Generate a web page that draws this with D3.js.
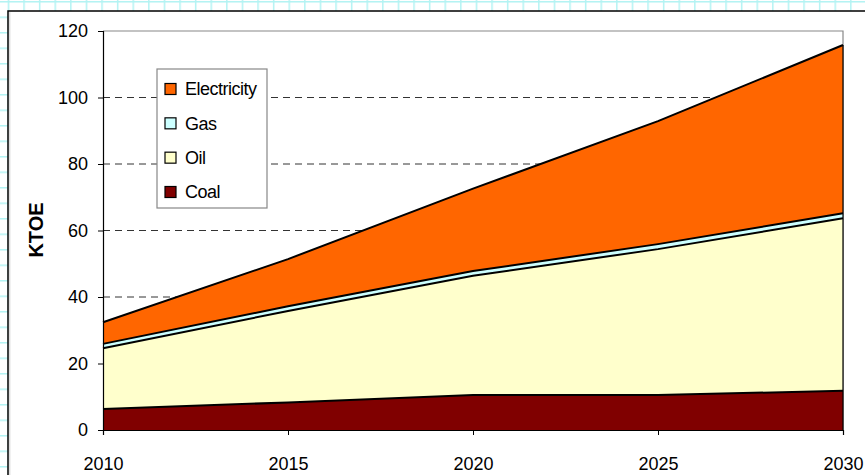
<!DOCTYPE html>
<html>
<head>
<meta charset="utf-8">
<script src="https://cdn.jsdelivr.net/npm/d3@7"></script>
<style>
  html, body { margin: 0; padding: 0; background: #fff; }
  svg { display: block; }
  text { font-family: "Liberation Sans", Arial, Helvetica, sans-serif; fill: #000; }
</style>
</head>
<body>
<svg id="chart" width="865" height="475"></svg>
<script>
// Final energy demand by fuel (KTOE)
const years = [2010, 2015, 2020, 2025, 2030];
const coal = [6.3, 8.3, 10.5, 10.5, 11.8];
const oil = [18.3, 27.5, 35.9, 43.9, 51.9];
const gas = [1.3, 1.4, 1.4, 1.5, 1.5];
const electricity = [6.5, 14.2, 24.8, 37.0, 50.6];
const yTicks = [0, 20, 40, 60, 80, 100, 120];

const seriesNames = ["Coal", "Oil", "Gas", "Electricity"];
const seriesValues = { Coal: coal, Oil: oil, Gas: gas, Electricity: electricity };
const colors = { Coal: "#800000", Oil: "#FFFFCC", Gas: "#CCFFFF", Electricity: "#FF6600" };
const legendOrder = ["Electricity", "Gas", "Oil", "Coal"];

const rows = years.map((yr, i) => {
  const r = { year: yr };
  seriesNames.forEach(k => { r[k] = seriesValues[k][i]; });
  return r;
});

const svg = d3.select("#chart");
const W = 865, H = 475;

// graph-paper backdrop
const defs = svg.append("defs");
const pat = defs.append("pattern")
  .attr("id", "paper").attr("patternUnits", "userSpaceOnUse")
  .attr("x", 7.7).attr("y", 1).attr("width", 15.6).attr("height", 15.5);
pat.append("rect").attr("width", 15.6).attr("height", 15.5).attr("fill", "#fff");
pat.append("line").attr("x1", 0).attr("x2", 15.6).attr("y1", 0.75).attr("y2", 0.75)
  .attr("stroke", "#b3f3f3").attr("stroke-width", 1.5);
pat.append("line").attr("x1", 0.75).attr("x2", 0.75).attr("y1", 0).attr("y2", 15.5)
  .attr("stroke", "#b3f3f3").attr("stroke-width", 1.5);
svg.append("rect").attr("width", W).attr("height", H).attr("fill", "url(#paper)");

// chart frame
svg.append("rect").attr("x", 8).attr("y", 11).attr("width", W).attr("height", H)
  .attr("fill", "#fff").attr("stroke", "#000").attr("stroke-width", 1.5);
svg.append("line").attr("x1", 9.8).attr("x2", 9.8).attr("y1", 12).attr("y2", H)
  .attr("stroke", "#d0d0d0").attr("stroke-width", 1);

const plotLeft = 103, plotRight = 843, plotTop = 31, plotBottom = 430;
const x = d3.scaleLinear().domain([2010, 2030]).range([plotLeft, plotRight]);
const y = d3.scaleLinear().domain([0, 120]).range([plotBottom, plotTop]);

// dashed gridlines
svg.append("g").selectAll("line")
  .data(yTicks.filter(v => v > 0 && v < 120))
  .join("line")
  .attr("x1", plotLeft).attr("x2", plotRight)
  .attr("y1", d => y(d)).attr("y2", d => y(d))
  .attr("stroke", "#333").attr("stroke-width", 1)
  .attr("stroke-dasharray", "7,5");

// plot border (top and right)
svg.append("path")
  .attr("d", `M${plotLeft},${y(120)}H${plotRight}V${plotBottom}`)
  .attr("fill", "none").attr("stroke", "#888").attr("stroke-width", 1.2);

// stacked areas
const stack = d3.stack().keys(seriesNames);
const layers = stack(rows);
const area = d3.area()
  .x(d => x(d.data.year))
  .y0(d => y(d[0]))
  .y1(d => y(d[1]));
const line = d3.line()
  .x(d => x(d.data.year))
  .y(d => y(d[1]));

svg.append("g").selectAll("path")
  .data(layers)
  .join("path")
  .attr("d", area)
  .attr("fill", d => colors[d.key]);

svg.append("g").selectAll("path")
  .data(layers)
  .join("path")
  .attr("d", line)
  .attr("fill", "none")
  .attr("stroke", "#000")
  .attr("stroke-width", 2);

// right edge of the stack
svg.append("line")
  .attr("x1", plotRight).attr("x2", plotRight)
  .attr("y1", y(0)).attr("y2", y(d3.sum(seriesNames, k => seriesValues[k][years.length - 1])))
  .attr("stroke", "#000").attr("stroke-width", 1.2);

// axes
const yAxis = d3.axisLeft(y).tickValues(yTicks).tickSize(5).tickPadding(10).tickFormat(d3.format("d"));
const gy = svg.append("g").attr("transform", `translate(${plotLeft},0)`).call(yAxis);
gy.select(".domain").attr("stroke", "#000").attr("stroke-width", 1.2);
gy.selectAll(".tick line").attr("stroke", "#000");
gy.selectAll("text").style("font-size", "18px");

const xAxis = d3.axisBottom(x).tickValues(years).tickSize(5).tickPadding(22).tickFormat(d3.format("d"));
const gx = svg.append("g").attr("transform", `translate(0,${plotBottom})`).call(xAxis);
gx.select(".domain").attr("stroke", "#000").attr("stroke-width", 1.2);
gx.selectAll(".tick line").attr("stroke", "#000");
gx.selectAll("text").style("font-size", "18px");

// y title
svg.append("text")
  .attr("transform", `translate(43,230) rotate(-90)`)
  .attr("text-anchor", "middle")
  .style("font-size", "20px").style("font-weight", "bold")
  .text("KTOE");

// legend
const lg = svg.append("g");
lg.append("rect").attr("x", 157).attr("y", 69).attr("width", 110).attr("height", 139)
  .attr("fill", "#fff").attr("stroke", "#888").attr("stroke-width", 1.2);
const legendY = d3.scalePoint().domain(legendOrder).range([89, 192]);
const items = lg.selectAll("g.item").data(legendOrder).join("g")
  .attr("class", "item")
  .attr("transform", d => `translate(165,${legendY(d)})`);
items.append("rect").attr("x", 0).attr("y", -5.5).attr("width", 11).attr("height", 11)
  .attr("fill", d => colors[d]).attr("stroke", "#000").attr("stroke-width", 1.2);
items.append("text").attr("x", 20).attr("dy", "0.36em")
  .style("font-size", "18px").style("letter-spacing", "-0.5px")
  .text(d => d);
</script>
</body>
</html>
